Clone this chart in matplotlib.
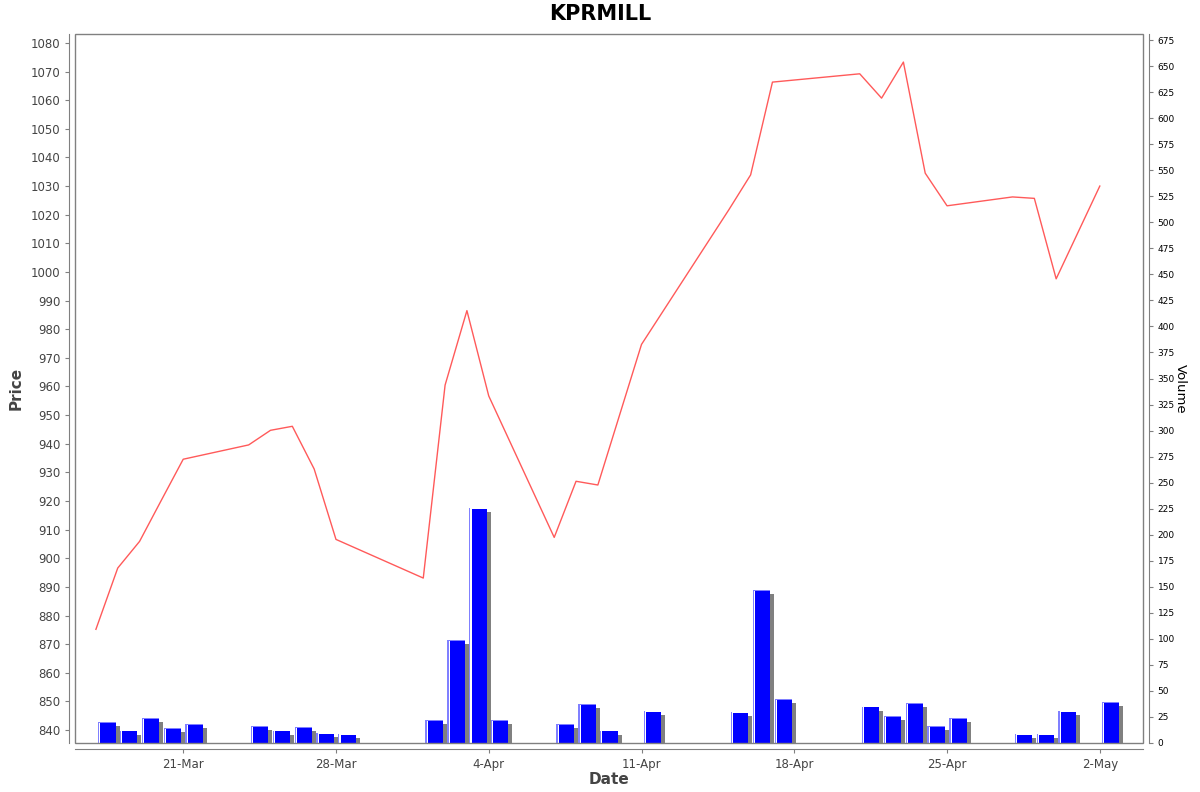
import matplotlib
matplotlib.use("Agg")
import matplotlib.pyplot as plt
import matplotlib.dates as mdates
import matplotlib.transforms as mtransforms
from matplotlib.patches import Rectangle
import numpy as np
import pandas as pd

# trading days shown on the chart
dates = pd.to_datetime([
    '2025-03-17', '2025-03-18', '2025-03-19', '2025-03-20', '2025-03-21',
    '2025-03-24', '2025-03-25', '2025-03-26', '2025-03-27', '2025-03-28',
    '2025-04-01', '2025-04-02', '2025-04-03', '2025-04-04',
    '2025-04-07', '2025-04-08', '2025-04-09', '2025-04-11',
    '2025-04-15', '2025-04-16', '2025-04-17',
    '2025-04-21', '2025-04-22', '2025-04-23', '2025-04-24', '2025-04-25',
    '2025-04-28', '2025-04-29', '2025-04-30', '2025-05-02'])

# closing price
price = [875.2, 896.6, 905.9, 920.3, 934.6,
         939.6, 944.7, 946.1, 931.2, 906.6,
         893.1, 960.5, 986.5, 956.7,
         907.3, 926.9, 925.6, 974.7,
         1021.7, 1033.9, 1066.3,
         1069.2, 1060.7, 1073.3, 1034.5, 1023.1,
         1026.2, 1025.7, 997.6, 1030.0]

# traded volume
volume = [20, 12, 24, 14, 18,
          16, 12, 15, 10, 9,
          22, 99, 226, 22,
          18, 37, 12, 31,
          30, 147, 42,
          35, 26, 38, 16, 24,
          9, 9, 31, 39]

tick_dates = ['2025-03-21', '2025-03-28', '2025-04-04', '2025-04-11',
              '2025-04-18', '2025-04-25', '2025-05-02']

xnum = mdates.date2num(dates)
grey = '#808080'

fig = plt.figure(figsize=(12, 7.92), dpi=100)
ax = fig.add_axes([75/1200, 1-743/792, (1143-75)/1200, (743-34)/792])
ax2 = ax.twinx()

# price line
ax.plot(xnum, price, color='#ff5a5a', lw=1.0, zorder=3)
ax.set_ylim(835.5, 1083.1)
ax.set_yticks(np.arange(840, 1081, 10))
ax.set_xlim(mdates.date2num(pd.Timestamp('2025-03-16 01:00')),
            mdates.date2num(pd.Timestamp('2025-05-03 23:30')))

# volume bars with drop shadow
left = xnum + 0.1
w = 0.8
shadow = mtransforms.ScaledTranslation(4/100, -4/100, fig.dpi_scale_trans)
ax2.bar(left, volume, width=w, align='edge', color=grey,
        transform=ax2.transData + shadow, zorder=1)
ax2.bar(left, volume, width=w, align='edge', color='#8080ff', zorder=2)
ax2.bar(left + 0.06, np.array(volume) - 0.6, width=w - 0.06, align='edge',
        color='white', zorder=3)
ax2.bar(left + 0.11, np.array(volume) - 0.9, width=w - 0.11, align='edge',
        color='#0000ff', zorder=4)
ax2.set_ylim(0, 680.8)
ax2.set_yticks(np.arange(0, 676, 25))
ax.set_zorder(ax2.get_zorder() + 1)
ax.patch.set_visible(False)

# weekly date ticks
ax.set_xticks(mdates.date2num(pd.to_datetime(tick_dates)))
ax.xaxis.set_major_formatter(mdates.DateFormatter('%-d-%b'))

ax.tick_params(axis='both', colors=grey, length=3, width=0.8,
               labelsize=8.5, labelcolor='#444444')
ax2.tick_params(axis='y', colors=grey, length=3, width=0.8,
                labelsize=6.5, labelcolor='black')

# box plus offset axis lines
for s in ['left', 'bottom']:
    ax.spines[s].set_position(('outward', 4))
    ax.spines[s].set_color(grey)
ax.spines['top'].set_visible(False)
ax.spines['right'].set_visible(False)
for s in ['left', 'bottom', 'top']:
    ax2.spines[s].set_visible(False)
ax2.spines['right'].set_position(('outward', 4))
ax2.spines['right'].set_color(grey)
ax.add_patch(Rectangle((0, 0), 1, 1, transform=ax.transAxes, fill=False,
                       edgecolor=grey, lw=1, clip_on=False, zorder=5))

ax.set_ylabel('Price', fontsize=11, color='#444444', fontweight='semibold', labelpad=5)
ax.set_xlabel('Date', fontsize=11, color='#444444', fontweight='semibold', labelpad=1)
ax2.set_ylabel('Volume', fontsize=9.5, color='black', rotation=-90, labelpad=9)
fig.suptitle('KPRMILL', fontsize=15, fontweight='bold', y=0.995)

fig.savefig('out.png', dpi=100)
